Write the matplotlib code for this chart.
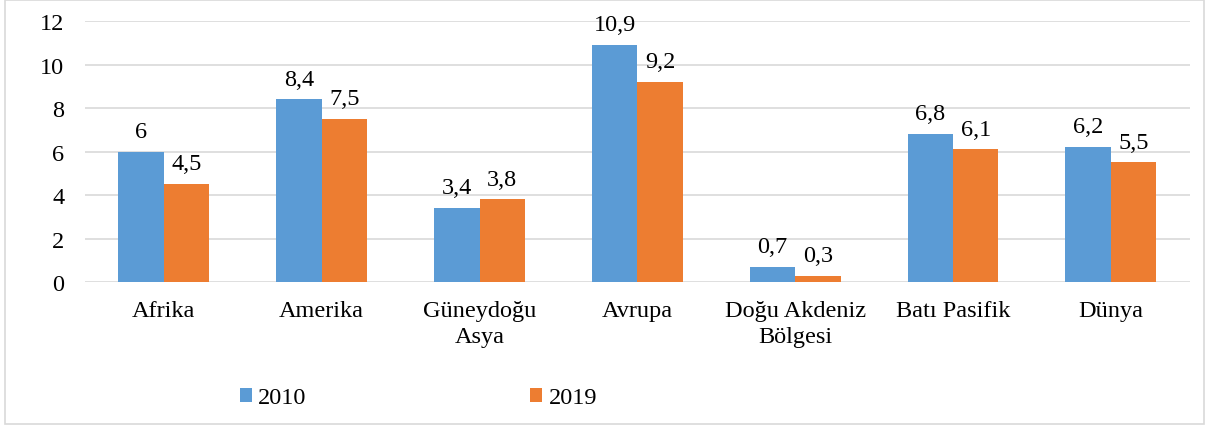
import matplotlib.pyplot as plt
import numpy as np
from matplotlib.patches import Rectangle

regions = ['Afrika', 'Amerika', 'Güneydoğu\nAsya', 'Avrupa', 'Doğu Akdeniz\nBölgesi', 'Batı Pasifik', 'Dünya']
y2010 = [6, 8.4, 3.4, 10.9, 0.7, 6.8, 6.2]
y2019 = [4.5, 7.5, 3.8, 9.2, 0.3, 6.1, 5.5]

plt.rcParams['font.family'] = ['Liberation Serif', 'DejaVu Serif']
fs = 17.5

fig = plt.figure(figsize=(12.06, 4.27), dpi=100)
ax = fig.add_axes([0.0705, 0.337, 0.916, 0.6115])

x = np.arange(len(regions))
w = 0.288
b1 = ax.bar(x - w / 2, y2010, w, color='#5B9BD5', label='2010', zorder=3)
b2 = ax.bar(x + w / 2, y2019, w, color='#ED7D31', label='2019', zorder=3)

def fmt(v):
    return ('%g' % v).replace('.', ',')

for bars, vals in ((b1, y2010), (b2, y2019)):
    for r, v in zip(bars, vals):
        ax.annotate(fmt(v), (r.get_x() + r.get_width() / 2, v), xytext=(0, 7),
                    textcoords='offset points', ha='center', va='bottom', fontsize=fs)

ax.set_xlim(-0.5, len(regions) - 0.5)
ax.set_ylim(0, 12)
ax.set_yticks(range(0, 13, 2))
ax.set_xticks(x)
ax.set_xticklabels(regions, fontsize=fs, linespacing=1.3)
ax.tick_params(axis='y', labelsize=fs, length=0, pad=15)
ax.tick_params(axis='x', length=0, pad=13)
ax.grid(axis='y', color='#d9d9d9', linewidth=1.2, zorder=0)
for s in ax.spines.values():
    s.set_visible(False)

fig.legend(handles=[b1, b2], labels=['2010', '2019'], loc='center', bbox_to_anchor=(0.347, 0.066),
           ncol=2, frameon=False, fontsize=fs, handlelength=0.5, handleheight=0.5,
           handletextpad=0.25, columnspacing=9.2)

fig.add_artist(Rectangle((0.004, 0.004), 0.994, 0.994, transform=fig.transFigure,
                         fill=False, edgecolor='#d9d9d9', linewidth=1.2))

fig.savefig('out.png', dpi=100)
